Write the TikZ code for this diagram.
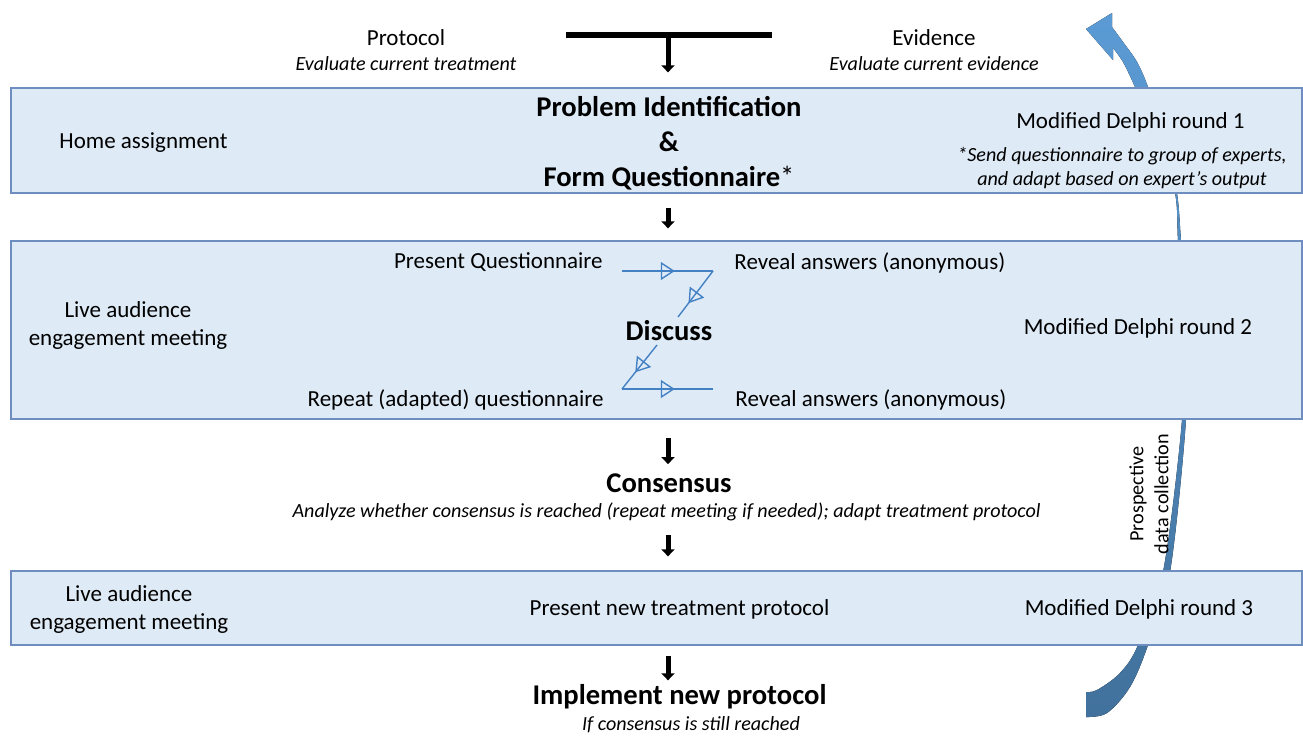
\documentclass[tikz,border=0pt]{standalone}
\usepackage{fontspec}
\setmainfont{Carlito}
\usetikzlibrary{arrows.meta,decorations.markings,positioning}

\definecolor{boxfill}{RGB}{222,235,247}
\definecolor{boxline}{RGB}{109,142,191}
\definecolor{loopblue}{RGB}{68,128,196}
\definecolor{arrtop}{RGB}{91,155,213}
\definecolor{arrbot}{RGB}{65,113,156}

\begin{document}
\begin{tikzpicture}[x=0.5pt,y=-0.5pt,
    phase/.style={draw=boxline,fill=boxfill,line width=0.65pt,inner sep=0pt,
                  minimum width=645.5pt},
    txt/.style={font=\fontsize{11.5}{14}\selectfont,align=center,inner sep=0pt,yshift=-1pt},
    note/.style={font=\fontsize{10.05}{12}\selectfont\itshape,align=center,inner sep=0pt,yshift=-1pt},
    big/.style={font=\fontsize{14.3}{17.5}\selectfont\bfseries,align=center,inner sep=0pt,yshift=-1pt},
    down/.style={-{Triangle[width=6.5pt,length=3.5pt]},line width=2.5pt},
    zig/.style={color=loopblue,line width=0.7pt,postaction={decorate},
      decoration={markings,mark=at position #1 with
        {\arrow{Triangle[open,length=7pt,width=9pt]}}}}]

  \fill[white] (0,0) rectangle (1303,735);
  \useasboundingbox (0,0) rectangle (1303,735);

  % curved feedback arrow (behind the boxes)
  \fill[top color=arrtop,bottom color=arrbot]
    plot[smooth,tension=0.55] coordinates {(1086,717) (1107,713) (1130,687)
      (1148,645) (1170,572) (1186,420) (1187,330) (1181,241) (1177,193)
      (1166,140) (1148,87) (1137,62) (1123,42) (1112,27)}
    -- (1112,13) -- (1086,29) -- (1113,60) -- (1113,48)
    -- plot[smooth,tension=0.55] coordinates {(1113,48) (1123,62) (1135,87)
      (1158,140) (1175,193) (1178,241) (1183,330) (1182,420) (1163,572)
      (1138,645) (1120,673) (1097,690) (1086,692)}
    -- cycle;

  % the three rounds
  \node[phase,minimum height=52.5pt] (round1) at (656.5,140.5) {};
  \node[phase,minimum height=89pt] (round2) at (656.5,330) {};
  \node[phase,minimum height=37pt] (round3) at (656.5,608) {};

  \coordinate (spine) at (668,0);
  \coordinate (barL) at (566,35);
  \coordinate (barR) at (772,35);
  \draw[line width=3pt] (barL) -- (barR);

  % top
  \node[txt] (proto) at (406,36) {Protocol};
  \node[note] (protonote) at (406,62) {Evaluate current treatment};
  \node[txt] (evid) at (934,36) {Evidence};
  \node[note] (evidnote) at (934,62) {Evaluate current evidence};

  % round 1
  \node[txt] (home) at (143.5,141) {Home assignment};
  \node[big] (probform) at (669,141)
       {Problem Identification\\\&\\Form Questionnaire{\mdseries*}};
  \node[txt] (delphi1) at (1130.5,120) {Modified Delphi round 1};
  \node[note] (sendnote) at (1122,166)
       {*Send questionnaire to group of experts,\\and adapt based on expert’s output};

  % round 2
  \node[txt] (live1) at (128,323) {Live audience\\engagement meeting};
  \node[txt,anchor=east] (presq) at (603,260) {Present Questionnaire};
  \node[txt,anchor=west] (reveal1) at (734,261) {Reveal answers (anonymous)};
  \node[big] (discuss) at (669,329) {Discuss};
  \node[txt,anchor=east] (repeatq) at (604,398) {Repeat (adapted) questionnaire};
  \node[txt,anchor=west] (reveal2) at (735,398) {Reveal answers (anonymous)};
  \node[txt] (delphi2) at (1138,326) {Modified Delphi round 2};

  \coordinate (zA) at (622,271);
  \coordinate (zB) at (713,271);
  \coordinate (zC) at (678,317);
  \coordinate (zD) at (657,345);
  \coordinate (zE) at (622,389);
  \coordinate (zF) at (713,389);
  \draw[zig=0.58] (zA) -- (zB);
  \draw[zig=0.7] (zB) -- (zC);
  \draw[zig=0.62] (zD) -- (zE);
  \draw[zig=0.58] (zE) -- (zF);

  % consensus
  \node[big] (consensus) at (669,481) {Consensus};
  \node[note] (analyze) at (666.5,510)
       {Analyze whether consensus is reached (repeat meeting if needed); adapt treatment protocol};

  % round 3
  \node[txt] (live2) at (129,607) {Live audience\\engagement meeting};
  \node[txt] (newproto) at (679.5,607) {Present new treatment protocol};
  \node[txt] (delphi3) at (1139,607) {Modified Delphi round 3};

  \node[big] (implement) at (679.5,695) {Implement new protocol};
  \node[note] (stillnote) at (691,723) {If consensus is still reached};

  \node[rotate=90,font=\fontsize{10.1}{12.5}\selectfont,align=center,inner sep=0pt]
       (pdc) at (1149,494) {Prospective\\data collection};

  % black arrows down the middle
  \draw[down,shorten >=7.5pt] (barL -| spine) -- (round1.north -| spine);
  \draw[down,shorten <=7pt,shorten >=6pt] (round1.south -| spine) -- (round2.north -| spine);
  \draw[down,shorten <=9pt,shorten >=4.5pt] (round2.south -| spine) -- (consensus.north -| spine);
  \draw[down,shorten <=7pt,shorten >=7pt] (analyze.south -| spine) -- (round3.north -| spine);
  \draw[down,shorten <=5pt,shorten >=2pt] (round3.south -| spine) -- (implement.north -| spine);

\end{tikzpicture}
\end{document}
